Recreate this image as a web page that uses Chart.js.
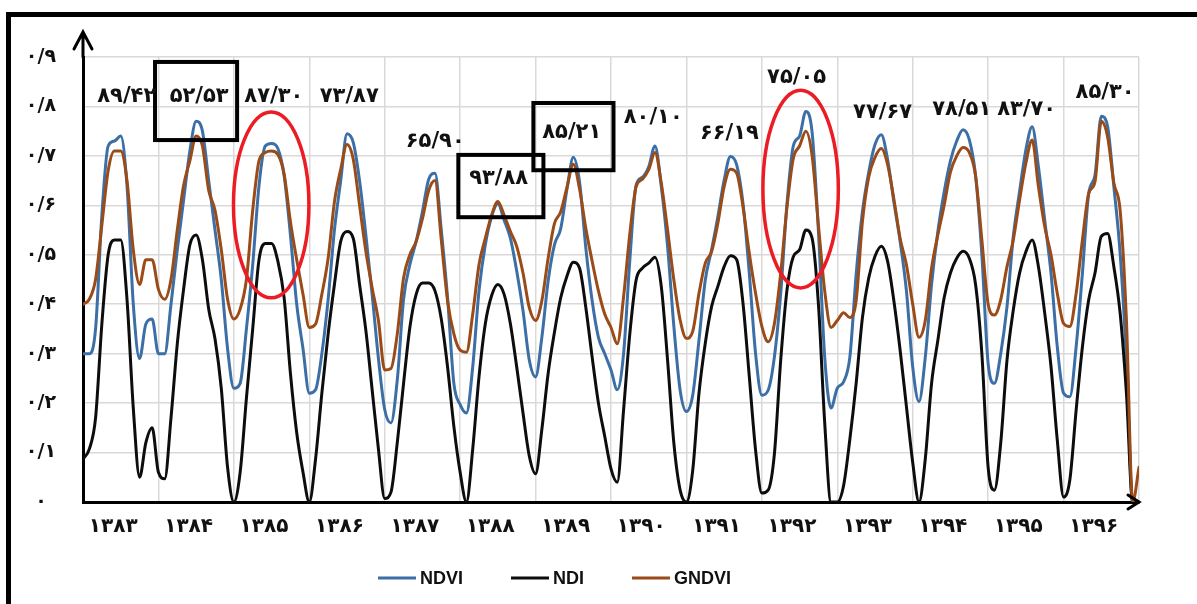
<!DOCTYPE html>
<html>
<head>
<meta charset="utf-8">
<script src="https://cdn.jsdelivr.net/npm/chart.js@4.4.1/dist/chart.umd.min.js"></script>
<style>
  html, body { margin: 0; padding: 0; background: #fff; }
  #wrap { width: 1197px; height: 604px; }
</style>
</head>
<body>
<div id="wrap"><canvas id="indexChart" width="1197" height="604"></canvas></div>
<script>
// =====================================================
// DATA
// =====================================================

const PER_YEAR = 12;

const years = [
  "۱۳۸۳", "۱۳۸۴", "۱۳۸۵", "۱۳۸۶", "۱۳۸۷", "۱۳۸۸", "۱۳۸۹",
  "۱۳۹۰", "۱۳۹۱", "۱۳۹۲", "۱۳۹۳", "۱۳۹۴", "۱۳۹۵", "۱۳۹۶"
];

const ndvi = [
  0.30, 0.30, 0.35, 0.58, 0.72, 0.73, 0.74, 0.64, 0.40, 0.29, 0.36, 0.37,
  0.30, 0.30, 0.40, 0.51, 0.61, 0.71, 0.77, 0.75, 0.65, 0.55, 0.45, 0.31,
  0.23, 0.24, 0.35, 0.48, 0.64, 0.72, 0.725, 0.715, 0.66, 0.54, 0.40, 0.31,
  0.22, 0.227, 0.30, 0.41, 0.55, 0.65, 0.745, 0.727, 0.65, 0.54, 0.42, 0.29,
  0.187, 0.16, 0.247, 0.41, 0.48, 0.527, 0.587, 0.653, 0.665, 0.55, 0.413, 0.24,
  0.197, 0.18, 0.273, 0.427, 0.52, 0.577, 0.603, 0.57, 0.533, 0.467, 0.387, 0.287,
  0.253, 0.333, 0.447, 0.52, 0.553, 0.633, 0.697, 0.647, 0.513, 0.407, 0.333, 0.30,
  0.267, 0.227, 0.30, 0.49, 0.641, 0.657, 0.678, 0.72, 0.638, 0.517, 0.355, 0.226,
  0.183, 0.216, 0.328, 0.449, 0.51, 0.577, 0.651, 0.699, 0.682, 0.604, 0.463, 0.30,
  0.216, 0.226, 0.294, 0.422, 0.604, 0.72, 0.74, 0.79, 0.747, 0.547, 0.293, 0.19,
  0.23, 0.243, 0.293, 0.46, 0.587, 0.667, 0.723, 0.743, 0.693, 0.607, 0.527, 0.427,
  0.273, 0.203, 0.293, 0.44, 0.547, 0.627, 0.69, 0.73, 0.753, 0.733, 0.66, 0.50,
  0.28, 0.24, 0.30, 0.395, 0.537, 0.628, 0.712, 0.759, 0.678, 0.57, 0.463, 0.314,
  0.22, 0.213, 0.314, 0.463, 0.624, 0.661, 0.78, 0.76, 0.638, 0.503, 0.287, 0,
  0
];

const ndi = [
  0.087, 0.107, 0.17, 0.36, 0.50, 0.53, 0.53, 0.41, 0.19, 0.05, 0.12, 0.15,
  0.06, 0.047, 0.17, 0.32, 0.43, 0.52, 0.54, 0.49, 0.39, 0.33, 0.23, 0.07,
  0.0, 0.06, 0.21, 0.35, 0.49, 0.523, 0.523, 0.487, 0.413, 0.26, 0.14, 0.06,
  0.0, 0.087, 0.22, 0.34, 0.44, 0.527, 0.547, 0.533, 0.44, 0.347, 0.227, 0.107,
  0.007, 0.02, 0.12, 0.24, 0.353, 0.42, 0.443, 0.443, 0.427, 0.37, 0.273, 0.153,
  0.06, 0.0, 0.107, 0.253, 0.36, 0.417, 0.44, 0.42, 0.36, 0.273, 0.18, 0.093,
  0.057, 0.147, 0.26, 0.343, 0.413, 0.457, 0.485, 0.473, 0.393, 0.293, 0.20, 0.133,
  0.067, 0.04, 0.186, 0.341, 0.449, 0.473, 0.483, 0.495, 0.436, 0.287, 0.119, 0.024,
  0.0, 0.064, 0.22, 0.321, 0.395, 0.436, 0.476, 0.498, 0.49, 0.402, 0.254, 0.105,
  0.018, 0.024, 0.098, 0.287, 0.429, 0.496, 0.51, 0.55, 0.533, 0.40, 0.16, 0.0,
  0.0, 0.033, 0.127, 0.24, 0.373, 0.453, 0.497, 0.517, 0.487, 0.407, 0.307, 0.193,
  0.08, 0.0, 0.087, 0.24, 0.327, 0.413, 0.463, 0.493, 0.507, 0.493, 0.44, 0.30,
  0.07, 0.024, 0.119, 0.287, 0.388, 0.463, 0.506, 0.53, 0.476, 0.382, 0.274, 0.125,
  0.01, 0.045, 0.186, 0.314, 0.409, 0.463, 0.537, 0.543, 0.476, 0.382, 0.22, 0,
  0
];

const gndvi = [
  0.40, 0.41, 0.45, 0.56, 0.67, 0.71, 0.71, 0.65, 0.51, 0.44, 0.49, 0.49,
  0.43, 0.41, 0.45, 0.55, 0.64, 0.69, 0.74, 0.72, 0.63, 0.59, 0.51, 0.41,
  0.37, 0.39, 0.45, 0.59, 0.69, 0.707, 0.71, 0.703, 0.663, 0.567, 0.49, 0.42,
  0.353, 0.36, 0.42, 0.493, 0.607, 0.673, 0.723, 0.693, 0.60, 0.507, 0.433, 0.367,
  0.267, 0.27, 0.34, 0.453, 0.50, 0.527, 0.573, 0.63, 0.65, 0.53, 0.407, 0.34,
  0.307, 0.303, 0.38, 0.48, 0.533, 0.58, 0.608, 0.58, 0.547, 0.517, 0.463, 0.393,
  0.367, 0.407, 0.493, 0.563, 0.587, 0.637, 0.683, 0.633, 0.553, 0.487, 0.427, 0.38,
  0.353, 0.32, 0.415, 0.543, 0.638, 0.653, 0.672, 0.707, 0.645, 0.55, 0.449, 0.368,
  0.331, 0.345, 0.422, 0.483, 0.506, 0.564, 0.638, 0.673, 0.665, 0.597, 0.503, 0.422,
  0.355, 0.324, 0.361, 0.463, 0.597, 0.695, 0.72, 0.75, 0.70, 0.56, 0.427, 0.353,
  0.367, 0.383, 0.373, 0.407, 0.567, 0.657, 0.697, 0.715, 0.683, 0.613, 0.533, 0.48,
  0.40, 0.333, 0.367, 0.473, 0.54, 0.60, 0.667, 0.70, 0.717, 0.707, 0.66, 0.53,
  0.40, 0.378, 0.409, 0.476, 0.53, 0.611, 0.685, 0.732, 0.638, 0.557, 0.50, 0.422,
  0.361, 0.355, 0.422, 0.53, 0.624, 0.648, 0.77, 0.739, 0.645, 0.59, 0.368, 0,
  0.07
];

// peak labels (text, time in years from the first tick, level on the value axis)
const peakText = [
  "۸۹/۴۲", "۵۲/۵۳", "۸۷/۳۰", "۷۳/۸۷", "۶۵/۹۰", "۹۳/۸۸", "۸۵/۲۱",
  "۸۰/۱۰", "۶۶/۱۹", "۷۵/۰۵", "۷۷/۶۷", "۷۸/۵۱", "۸۳/۷۰", "۸۵/۳۰"
];
const peakAt = [
  0.58, 1.54, 2.53, 3.53, 4.67, 5.51, 6.48,
  7.56, 8.57, 9.46, 10.60, 11.65, 12.51, 13.55
];
const peakLevel = [
  0.82, 0.82, 0.82, 0.82, 0.73, 0.655, 0.748,
  0.777, 0.746, 0.858, 0.787, 0.793, 0.793, 0.829
];

// black boxes
const boxFrom = [0.955, 4.976, 5.971];
const boxTo = [2.043, 6.104, 7.033];
const boxTop = [0.89, 0.702, 0.807];
const boxBottom = [0.732, 0.576, 0.671];

// red rings
const ringAt = [2.495, 9.514];
const ringLevel = [0.601, 0.633];
const ringHalfYears = [0.50, 0.50];
const ringHalfValue = [0.188, 0.200];

// =====================================================
// HELPERS
// =====================================================

const FA_DIGITS = "۰۱۲۳۴۵۶۷۸۹";

function toFa(text) {
  return String(text)
    .replace(/[0-9]/g, d => FA_DIGITS[d])
    .replace(".", "/");
}

const BLUE = "#3b6fa6";
const BLACK = "#0d0d0d";
const BROWN = "#9a4b17";
const GRID = "#d9d9d9";
const FA_FONT = "'DejaVu Sans', sans-serif";
const LABEL_SHIFT = 0.4;

const timeAxis =
  ndvi.map((_, i) => i / PER_YEAR);

// =====================================================
// DECORATION
// =====================================================

const decor = {
  id: "decor",

  afterDatasetsDraw(chart) {
    const { ctx, chartArea: a } = chart;
    const x = chart.scales.x;
    const y = chart.scales.y;

    ctx.save();

    // axis arrows
    ctx.strokeStyle = "#000";
    ctx.lineWidth = 3;
    ctx.lineCap = "round";

    ctx.beginPath();
    ctx.moveTo(a.left, a.top);
    ctx.lineTo(a.left, a.top - 25);
    ctx.moveTo(a.left - 9, a.top - 8);
    ctx.lineTo(a.left, a.top - 25);
    ctx.lineTo(a.left + 9, a.top - 8);
    ctx.stroke();

    ctx.beginPath();
    ctx.moveTo(a.right - 11, a.bottom - 7);
    ctx.lineTo(a.right, a.bottom);
    ctx.lineTo(a.right - 11, a.bottom + 7);
    ctx.stroke();

    // red rings
    ctx.strokeStyle = "#ec1c24";
    ctx.lineWidth = 3.5;
    ringAt.forEach((t, i) => {
      const cx = x.getPixelForValue(t);
      const cy = y.getPixelForValue(ringLevel[i]);
      const rx = x.getPixelForValue(t + ringHalfYears[i]) - cx;
      const ry = cy - y.getPixelForValue(ringLevel[i] + ringHalfValue[i]);
      ctx.beginPath();
      ctx.ellipse(cx, cy, rx, ry, 0, 0, Math.PI * 2);
      ctx.stroke();
    });

    // black boxes
    ctx.strokeStyle = "#000";
    ctx.lineWidth = 4;
    ctx.lineCap = "butt";
    boxFrom.forEach((t, i) => {
      const x0 = x.getPixelForValue(t);
      const x1 = x.getPixelForValue(boxTo[i]);
      const y0 = y.getPixelForValue(boxTop[i]);
      const y1 = y.getPixelForValue(boxBottom[i]);
      ctx.strokeRect(x0, y0, x1 - x0, y1 - y0);
    });

    // peak labels
    ctx.fillStyle = "#111";
    ctx.font = "bold 21px " + FA_FONT;
    ctx.textAlign = "center";
    ctx.textBaseline = "middle";
    peakText.forEach((txt, i) => {
      ctx.fillText(
        txt,
        x.getPixelForValue(peakAt[i]),
        y.getPixelForValue(peakLevel[i])
      );
    });

    ctx.restore();
  },

  afterDraw(chart) {
    const { ctx } = chart;

    ctx.save();

    // outer frame (left and top edges)
    ctx.strokeStyle = "#000";
    ctx.lineWidth = 5;
    ctx.beginPath();
    ctx.moveTo(8.5, 610);
    ctx.lineTo(8.5, 14.5);
    ctx.lineTo(1197, 14.5);
    ctx.stroke();

    // legend
    ctx.font = "bold 18px 'Liberation Sans', Arial, sans-serif";
    ctx.textBaseline = "middle";
    ctx.textAlign = "left";
    let lx = 378;
    const ly = 578;
    chart.data.datasets.forEach(ds => {
      ctx.strokeStyle = ds.borderColor;
      ctx.lineWidth = 3;
      ctx.beginPath();
      ctx.moveTo(lx, ly);
      ctx.lineTo(lx + 38, ly);
      ctx.stroke();
      ctx.fillStyle = "#111";
      ctx.fillText(ds.label, lx + 42, ly + 1);
      lx += 42 + ctx.measureText(ds.label).width + 48;
    });

    ctx.restore();
  }
};

// =====================================================
// CHART
// =====================================================

new Chart(
  document.getElementById("indexChart"),
  {
    type: "line",

    data: {
      labels: timeAxis,
      datasets: [
        { label: "NDVI", data: ndvi, borderColor: BLUE, xAxisID: "x", order: 3 },
        { label: "NDI", data: ndi, borderColor: BLACK, xAxisID: "x", order: 2 },
        { label: "GNDVI", data: gndvi, borderColor: BROWN, xAxisID: "x", order: 1 }
      ]
    },

    options: {
      responsive: false,
      animation: false,

      layout: {
        padding: { top: 57, right: 58, left: 0, bottom: 0 }
      },

      elements: {
        line: {
          borderWidth: 3,
          cubicInterpolationMode: "monotone",
          borderCapStyle: "round",
          borderJoinStyle: "round"
        },
        point: { radius: 0 }
      },

      plugins: {
        legend: { display: false },
        tooltip: { enabled: false }
      },

      scales: {
        x: {
          type: "linear",
          position: "bottom",
          min: 0,
          max: years.length,
          afterBuildTicks: s => {
            s.ticks = years.map((_, i) => ({ value: i }))
              .concat([{ value: years.length }]);
          },
          ticks: { display: false },
          grid: { color: GRID, lineWidth: 1.5, drawTicks: false },
          border: { color: "#000", width: 3 },
          afterFit: s => { s.height = 0; }
        },

        xYear: {
          type: "linear",
          position: "bottom",
          min: 0,
          max: years.length,
          afterBuildTicks: s => {
            s.ticks = years.map((_, i) => ({ value: i + LABEL_SHIFT }));
          },
          ticks: {
            callback: (v, i) => years[i],
            autoSkip: false,
            maxRotation: 0,
            padding: 13,
            color: "#111",
            font: { family: FA_FONT, size: 20, weight: "bold" }
          },
          grid: { display: false, drawTicks: false },
          border: { display: false },
          afterFit: s => { s.height = 102; }
        },

        y: {
          min: 0,
          max: 0.9,
          ticks: {
            stepSize: 0.1,
            crossAlign: "center",
            padding: 27,
            color: "#111",
            font: { family: FA_FONT, size: 19, weight: "bold" },
            callback: v => (v === 0 ? "۰" : toFa(v.toFixed(1)))
          },
          grid: { color: GRID, lineWidth: 1.5, drawTicks: false },
          border: { color: "#000", width: 3 },
          afterFit: s => { s.width = 83; }
        }
      }
    },

    plugins: [decor]
  }
);
</script>
</body>
</html>
